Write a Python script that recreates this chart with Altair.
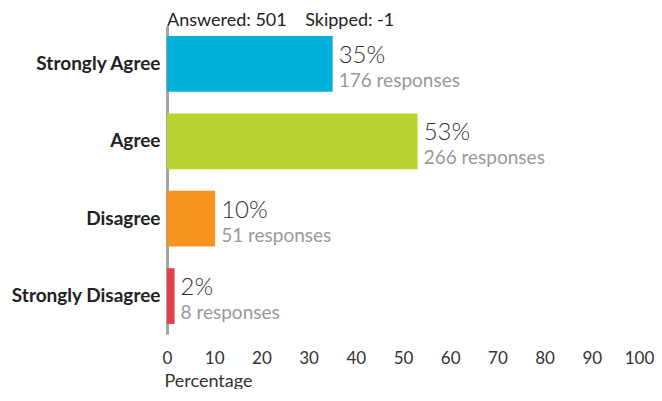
import altair as alt
import pandas as pd

categories = ["Strongly Agree", "Agree", "Disagree", "Strongly Disagree"]
percents = [35.1, 53.1, 10.2, 1.6]
pct_labels = ["35%", "53%", "10%", "2%"]
responses = [176, 266, 51, 8]
colors = ["#00b2d9", "#b9d532", "#f7941e", "#e5404a"]
x_ticks = [0, 10, 20, 30, 40, 50, 60, 70, 80, 90, 100]
title_text = "Answered: 501\u00a0\u00a0\u00a0\u00a0Skipped: -1"

df = pd.DataFrame({
    "cat": categories,
    "pct": percents,
    "pct_label": pct_labels,
    "resp_label": [f"{r} responses" for r in responses],
})

FONT = "Lato"

y_enc = alt.Y("cat:N", sort=categories,
              scale=alt.Scale(paddingInner=0.28, paddingOuter=0.13),
              axis=alt.Axis(title=None, domainColor="#a3a3a3", domainWidth=3,
                            ticks=False, labelFont=FONT, labelFontWeight="bold",
                            labelFontSize=19, labelColor="#222222", labelPadding=7))
x_enc = alt.X("pct:Q", scale=alt.Scale(domain=[0, 100]),
              axis=alt.Axis(title="Percentage", values=x_ticks, grid=False,
                            domain=False, ticks=False, labelFont=FONT,
                            labelFontSize=17, labelColor="#333333",
                            labelFlush=False, labelOverlap=False,
                            labelPadding=16, titleFont=FONT, titleFontSize=18,
                            titleFontWeight="normal", titleColor="#333333",
                            titleAnchor="start", titleAlign="left", titleX=-3,
                            titlePadding=6))

base = alt.Chart(df)

bars = base.mark_bar().encode(
    y=y_enc, x=x_enc,
    color=alt.Color("cat:N", scale=alt.Scale(domain=categories, range=colors), legend=None),
)

pct_text = base.mark_text(align="left", baseline="alphabetic", dx=6, dy=-1,
                          font=FONT, fontSize=24, fontWeight=300,
                          color="#333333").encode(
    y=alt.Y("cat:N", sort=categories), x="pct:Q", text="pct_label:N")

resp_text = base.mark_text(align="left", baseline="alphabetic", dx=6, dy=23,
                           font=FONT, fontSize=19, color="#999999").encode(
    y=alt.Y("cat:N", sort=categories), x="pct:Q", text="resp_label:N")

title = alt.Chart(pd.DataFrame({"t": [title_text]})).mark_text(
    align="left", baseline="alphabetic", font=FONT, fontSize=18,
    color="#222222").encode(x=alt.value(0), y=alt.value(0), text="t:N")

chart = alt.layer(bars, pct_text, resp_text, title).properties(
    width=472, height=308,
    autosize=alt.AutoSizeParams(type="none"),
    padding={"left": 159, "top": 18, "right": 15, "bottom": 55},
).configure_view(stroke=None)

chart.save("out.html", embed_options={"renderer": "svg", "actions": False})
